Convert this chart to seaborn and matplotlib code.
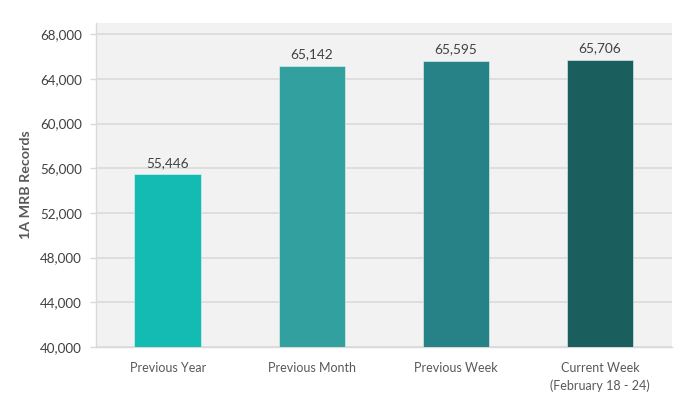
import matplotlib
matplotlib.use("Agg")
import matplotlib.pyplot as plt
import seaborn as sns
import pandas as pd

# datos del grafico
categories = ["Previous Year", "Previous Month", "Previous Week", "Current Week\n(February 18 - 24)"]
records = [55446, 65142, 65595, 65706]
colors = ["#14bbb2", "#33a0a0", "#268287", "#1a5f5e"]
y_ticks = [40000, 44000, 48000, 52000, 56000, 60000, 64000, 68000]

df = pd.DataFrame({"category": categories, "records": records})

sns.set_style("white")
plt.rcParams["font.family"] = ["Lato", "DejaVu Sans"]

fig = plt.figure(figsize=(6.9, 3.94), dpi=100)
ax = fig.add_axes([0.1391, 0.1193, 0.8348, 0.8223])
ax.set_facecolor("#f2f2f2")

sns.barplot(data=df, x="category", y="records", hue="category", palette=colors,
            saturation=1, legend=False, width=0.465, edgecolor="#e8f4f4",
            linewidth=0.4, ax=ax, zorder=3)

ax.set_ylim(40000, 69000)
ax.set_yticks(y_ticks)
ax.set_yticklabels([f"{v:,}" for v in y_ticks])
ax.yaxis.grid(True, color="#d9d9d9", linewidth=1.1, zorder=0)
ax.set_axisbelow(True)

for i, v in enumerate(records):
    ax.text(i, v + 500, f"{v:,}", ha="center", va="bottom", fontsize=9.8, color="#404040")

ax.set_xlabel("")
ax.set_ylabel("1A MRB Records", fontsize=10.3, fontweight="bold", color="#595959", labelpad=6)
ax.tick_params(axis="x", labelsize=9, labelcolor="#595959", length=0, pad=11)
ax.tick_params(axis="y", labelsize=9.6, labelcolor="#404040", length=4, color="#d9d9d9", width=1, pad=6, left=True)
for lbl in ax.get_xticklabels():
    lbl.set_linespacing(1.45)

for s in ["top", "right"]:
    ax.spines[s].set_visible(False)
ax.spines["left"].set_color("#d9d9d9")
ax.spines["bottom"].set_color("#d9d9d9")
ax.spines["left"].set_linewidth(1)
ax.spines["bottom"].set_linewidth(1)

fig.savefig("out.png", dpi=100, facecolor="white")
